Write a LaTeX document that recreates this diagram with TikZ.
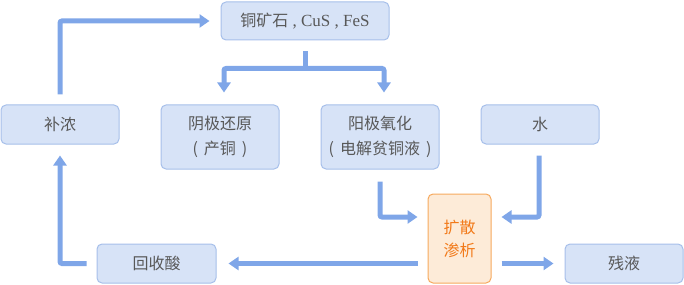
\documentclass[tikz,border=0pt]{standalone}
\usepackage{fontspec}
\setmainfont{Noto Sans CJK SC}
\newfontfamily\lat{Liberation Serif}
\usetikzlibrary{arrows.meta}
\definecolor{boxfill}{HTML}{D7E3F7}
\definecolor{boxline}{HTML}{A6BFEA}
\definecolor{arrc}{HTML}{7FA6E8}
\definecolor{txt}{HTML}{585858}
\definecolor{ofill}{HTML}{FDEBD8}
\definecolor{oline}{HTML}{F6A95E}
\definecolor{otxt}{HTML}{F27A1A}
\newcommand{\pl}{(\hspace{6pt}}
\newcommand{\pr}{\hspace{6pt})}
\begin{document}
\begin{tikzpicture}[x=1pt,y=1pt,
 box/.style={draw=boxline, fill=boxfill, rounded corners=5pt, line width=1pt, text=txt,
   font=\fontsize{16}{25}\selectfont, align=center, inner sep=0pt},
 obox/.style={box, draw=oline, fill=ofill, text=otxt, font=\fontsize{16}{23}\selectfont},
 arr/.style={draw=arrc, line width=5pt, rounded corners=2pt, -{Triangle[length=10pt,width=13pt]}},
 ln/.style={draw=arrc, line width=5pt}]
\useasboundingbox (0,0) rectangle (684,284);
\node[box, minimum width=168, minimum height=38] (ore) at (305,263) {铜矿石{\lat\fontsize{17}{20}\selectfont\ ,\ CuS\ ,\ FeS}};
\node[box, minimum width=118, minimum height=39] (bn) at (60,159.5) {补浓};
\node[box, minimum width=118, minimum height=64] (yin) at (220,147) {阴极还原\\\pl 产铜\pr};
\node[box, minimum width=118, minimum height=64] (yang) at (380,147) {阳极氧化\\\pl 电解贫铜液\pr};
\node[box, minimum width=118, minimum height=39] (water) at (540,159.5) {水};
\node[obox, minimum width=63, minimum height=89] (ks) at (459.5,45.5) {扩散\\渗析};
\node[box, minimum width=119, minimum height=39] (hs) at (156.5,20.5) {回收酸};
\node[box, minimum width=118, minimum height=39] (cy) at (624,20.5) {残液};

\draw[arr] ([yshift=10]bn.north) |- ([xshift=-11]ore.west);
\draw[ln] ([yshift=-11]ore.south) -- ++(0,-17) coordinate (oj);
\draw[arr] (oj) -| ([xshift=4,yshift=12]yin.north);
\draw[arr] (oj) -| ([xshift=4,yshift=12]yang.north);
\draw[arr] ([yshift=-12]yang.south) |- ([xshift=-10,yshift=21.5]ks.west);
\draw[arr] ([xshift=-1,yshift=-11]water.south) |- ([xshift=10,yshift=21.5]ks.east);
\draw[arr] ([xshift=-10]ks.west |- hs.east) -- ([xshift=12]hs.east);
\draw[arr] ([xshift=10]ks.east |- cy.west) -- ([xshift=-11]cy.west);
\draw[arr] ([xshift=-10]hs.west) -| ([yshift=-11]bn.south);
\end{tikzpicture}
\end{document}
